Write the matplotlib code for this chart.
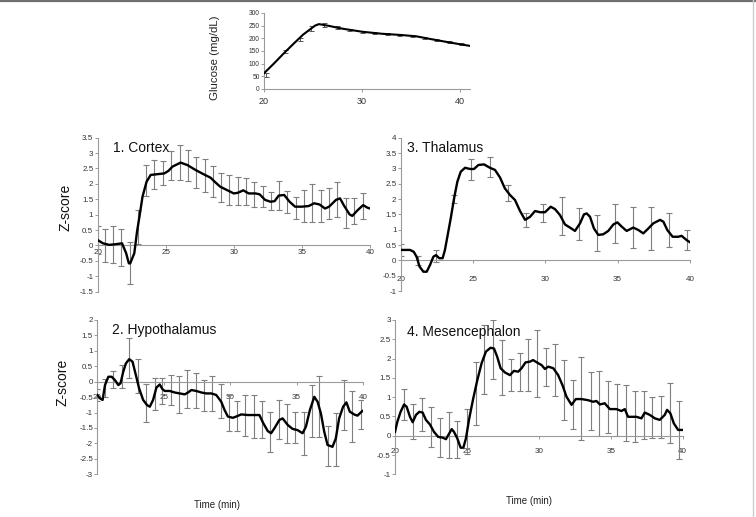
import matplotlib
matplotlib.use("Agg")
import matplotlib.pyplot as plt
from matplotlib.lines import Line2D

plt.rcParams['font.family'] = ['Liberation Sans', 'DejaVu Sans']

# glucose (mg/dL)
glu_t = [20, 21, 22, 23, 24, 25.2, 25.6, 26.5, 28, 30, 32, 34, 35.5, 37, 39, 41]
glu_v = [62, 100, 140, 178, 215, 250, 256, 250, 238, 226, 218, 213, 208, 197, 183, 170]
glu_err_t = [20.17, 22.14, 23.67, 24.8, 26.12, 27.42, 28.67, 29.97, 31.22, 32.52, 33.78,
             35.07, 36.26, 37.52, 38.81, 40.07]
glu_err_c = [55, 147, 196, 239, 252, 242, 233, 225, 220, 217, 214, 209, 201, 193, 184, 176]
glu_err = [8, 5, 5, 10, 8, 5, 5, 5, 4, 4, 4, 4, 4, 4, 4, 4]

# 1. Cortex
cor_t = [20.0, 20.4, 20.85, 21.3, 21.8, 22.1, 22.3, 22.4, 22.7, 22.9, 23.1, 23.3, 23.6, 23.9,
         24.3, 24.9, 25.2, 25.5, 26.1, 26.6, 27.2, 27.8, 28.3, 28.6, 29.0, 29.5, 30.0, 30.3,
         30.7, 31.1, 31.6, 31.9, 32.3, 32.7, 33.0, 33.3, 33.7, 34.1, 34.5, 35.0, 35.5, 35.9,
         36.3, 36.7, 37.0, 37.5, 37.8, 38.1, 38.5, 38.7, 39.1, 39.5, 39.8, 40.0]
cor_z = [0.18, 0.07, 0.02, 0.04, 0.07, -0.25, -0.58, -0.58, -0.25, 0.45, 1.0, 1.58, 2.07, 2.29,
         2.31, 2.34, 2.42, 2.56, 2.69, 2.61, 2.45, 2.31, 2.2, 2.07, 1.91, 1.8, 1.69, 1.71,
         1.79, 1.69, 1.69, 1.66, 1.48, 1.42, 1.44, 1.62, 1.64, 1.42, 1.26, 1.26, 1.28, 1.37,
         1.33, 1.2, 1.26, 1.48, 1.53, 1.29, 1.01, 0.96, 1.15, 1.31, 1.23, 1.2]
cor_err_t = [20.0, 20.54, 21.14, 21.75, 22.36, 22.97, 23.58, 24.18, 24.79, 25.43, 26.03, 26.64,
             27.25, 27.86, 28.47, 29.08, 29.68, 30.29, 30.9, 31.51, 32.12, 32.73, 33.33, 33.94,
             34.55, 35.16, 35.77, 36.37, 36.98, 37.59, 38.25, 38.81, 39.46]
cor_err_c = [0.17, 0.0, 0.03, -0.05, -0.58, 0.6, 2.1, 2.3, 2.35, 2.6, 2.7, 2.6, 2.37, 2.28, 2.09,
             1.88, 1.81, 1.77, 1.76, 1.66, 1.59, 1.44, 1.62, 1.42, 1.23, 1.28, 1.39, 1.28, 1.36,
             1.5, 1.06, 1.11, 1.28]
cor_err = [0.45, 0.55, 0.6, 0.6, 0.68, 0.55, 0.5, 0.48, 0.39, 0.48, 0.56, 0.5, 0.51, 0.53, 0.5,
           0.48, 0.48, 0.46, 0.43, 0.4, 0.34, 0.29, 0.47, 0.35, 0.36, 0.52, 0.62, 0.51, 0.5,
           0.57, 0.48, 0.42, 0.42]

# 3. Thalamus
tha_t = [20.0, 20.65, 20.9, 21.1, 21.3, 21.57, 21.8, 22.03, 22.26, 22.44, 22.67, 22.9, 23.06,
         23.25, 23.46, 23.69, 23.92, 24.15, 24.45, 24.8, 25.07, 25.37, 25.76, 26.17, 26.52,
         26.87, 27.2, 27.56, 27.9, 28.25, 28.6, 28.94, 29.29, 29.63, 29.98, 30.37, 30.67,
         31.01, 31.36, 31.7, 32.05, 32.4, 32.67, 32.86, 33.09, 33.36, 33.66, 34.0, 34.35,
         34.7, 34.98, 35.28, 35.62, 36.08, 36.43, 36.77, 37.12, 37.47, 37.93, 38.16, 38.43,
         38.8, 39.19, 39.42, 39.77, 40.0]
tha_z = [0.34, 0.34, 0.28, 0.12, -0.2, -0.37, -0.37, -0.15, 0.12, 0.17, 0.07, 0.07, 0.34,
         0.83, 1.37, 2.02, 2.57, 2.89, 3.02, 2.98, 2.98, 3.11, 3.13, 3.02, 2.95,
         2.7, 2.35, 2.13, 1.97, 1.61, 1.32, 1.42, 1.61, 1.57, 1.57, 1.75, 1.67,
         1.48, 1.17, 1.07, 0.96, 1.21, 1.5, 1.53, 1.42, 1.04, 0.83, 0.85, 0.96,
         1.17, 1.24, 1.1, 0.96, 1.07, 0.99, 0.88, 1.04, 1.21, 1.32, 1.26, 0.99,
         0.77, 0.77, 0.8, 0.66, 0.59]
tha_err_t = [20.0, 21.23, 22.46, 23.69, 24.84, 26.17, 27.4, 28.64, 29.86, 31.13, 32.35, 33.59,
             34.82, 36.08, 37.28, 38.53, 39.77]
tha_err_c = [0.34, 0.0, 0.15, 2.0, 2.96, 3.04, 2.2, 1.33, 1.54, 1.46, 1.2, 0.9, 1.19, 1.07,
             1.05, 0.99, 0.66]
tha_err = [0.2, 0.15, 0.2, 0.12, 0.35, 0.32, 0.25, 0.23, 0.29, 0.62, 0.52, 0.59, 0.64, 0.68,
           0.7, 0.56, 0.33]

# 2. Hypothalamus
hyp_t = [20.0, 20.2, 20.4, 20.58, 20.83, 21.08, 21.33, 21.58, 21.75, 21.95, 22.15, 22.4, 22.65,
         22.9, 23.15, 23.45, 23.75, 23.95, 24.2, 24.45, 24.7, 24.9, 25.08, 25.45, 25.83, 26.2,
         26.58, 26.83, 27.08, 27.45, 27.83, 28.2, 28.58, 28.95, 29.33, 29.58, 29.83, 30.2,
         30.45, 30.83, 31.33, 31.83, 32.2, 32.5, 32.83, 33.08, 33.33, 33.7, 33.95, 34.33,
         34.7, 35.08, 35.45, 35.7, 36.0, 36.33, 36.58, 36.83, 37.08, 37.33, 37.7, 37.95,
         38.2, 38.5, 38.75, 39.0, 39.33, 39.58, 39.75, 39.95]
hyp_z = [-0.43, -0.54, -0.59, -0.11, 0.16, 0.16, 0.05, -0.11, -0.05, 0.32, 0.59, 0.73, 0.65,
         0.22, -0.22, -0.59, -0.76, -0.81, -0.59, -0.19, -0.09, -0.24, -0.3, -0.3, -0.35, -0.38,
         -0.41, -0.35, -0.27, -0.3, -0.35, -0.38, -0.38, -0.43, -0.65, -0.92, -1.13, -1.17,
         -1.13, -1.06, -1.08, -1.08, -1.08, -1.35, -1.6, -1.67, -1.51, -1.24, -1.19, -1.4,
         -1.53, -1.57, -1.67, -1.46, -0.92, -0.49, -0.65, -1.03, -1.62, -2.05, -2.11, -1.84,
         -1.19, -0.81, -0.67, -0.97, -1.06, -1.1, -1.03, -0.95]
hyp_err_t = [20.0, 20.58, 21.2, 21.83, 22.4, 23.03, 23.65, 24.33, 24.9, 25.53, 26.15, 26.78,
             27.4, 28.03, 28.65, 29.28, 29.9, 30.53, 31.15, 31.78, 32.4, 33.03, 33.65, 34.28,
             34.9, 35.53, 36.15, 36.7, 37.33, 37.95, 38.58, 39.2, 39.83]
hyp_err_c = [-0.43, -0.2, 0.06, 0.16, 0.76, 0.2, -0.69, -0.39, -0.3, -0.26, -0.41, -0.23,
             -0.28, -0.44, -0.39, -0.64, -1.02, -1.11, -1.1, -1.12, -1.23, -1.63, -1.23, -1.35,
             -1.48, -1.67, -0.95, -0.8, -2.07, -1.86, -0.76, -1.12, -1.06]
hyp_err = [0.2, 0.3, 0.28, 0.38, 0.65, 0.55, 0.6, 0.52, 0.43, 0.48, 0.61, 0.61, 0.56, 0.5,
           0.56, 0.55, 0.58, 0.49, 0.67, 0.69, 0.6, 0.66, 0.63, 0.62, 0.49, 0.7, 0.84, 0.99,
           0.65, 0.86, 0.81, 0.82, 0.46]

# 4. Mesencephalon
mes_t = [20.0, 20.16, 20.39, 20.63, 20.81, 21.04, 21.23, 21.46, 21.69, 21.92, 22.15, 22.43,
         22.71, 23.0, 23.31, 23.54, 23.77, 23.94, 24.1, 24.33, 24.56, 24.75, 24.93, 25.16,
         25.44, 25.72, 26.02, 26.32, 26.64, 26.88, 27.1, 27.34, 27.64, 27.99, 28.26, 28.56,
         28.8, 29.07, 29.38, 29.6, 29.95, 30.19, 30.42, 30.65, 31.0, 31.34, 31.64, 31.92,
         32.27, 32.57, 32.96, 33.43, 33.77, 34.0, 34.24, 34.58, 34.93, 35.39, 35.74, 35.97,
         36.2, 36.78, 37.13, 37.36, 37.71, 38.06, 38.4, 38.75, 38.91, 39.14, 39.38, 39.68, 39.98]
mes_z = [0.1, 0.36, 0.62, 0.81, 0.75, 0.49, 0.35, 0.54, 0.62, 0.6, 0.41, 0.29,
         0.1, -0.03, -0.05, -0.09, 0.06, 0.17, 0.1, -0.07, -0.31, -0.31, -0.07, 0.45,
         0.97, 1.44, 1.88, 2.18, 2.28, 2.26, 2.05, 1.75, 1.64, 1.57, 1.68, 1.66,
         1.75, 1.9, 1.92, 1.96, 1.88, 1.83, 1.73, 1.79, 1.75, 1.57, 1.31, 1.01,
         0.8, 0.95, 0.95, 0.92, 0.88, 0.9, 0.81, 0.84, 0.69, 0.69, 0.64, 0.69,
         0.49, 0.49, 0.45, 0.6, 0.54, 0.45, 0.41, 0.54, 0.67, 0.58, 0.32, 0.15, 0.15]
mes_err_t = [20.63, 21.23, 21.85, 22.48, 23.13, 23.73, 24.33, 24.98, 25.6, 26.2, 26.83, 27.45,
             28.06, 28.66, 29.26, 29.88, 30.49, 31.11, 31.74, 32.36, 32.96, 33.59, 34.19,
             34.81, 35.44, 36.04, 36.67, 37.29, 37.89, 38.52, 39.14, 39.75]
mes_err_c = [0.8, 0.36, 0.55, 0.23, -0.05, 0.02, -0.09, 0.1, 1.1, 1.97, 2.23, 1.77, 1.58, 1.66,
             1.83, 1.88, 1.79, 1.7, 1.18, 0.81, 0.97, 0.9, 0.83, 0.74, 0.67, 0.59, 0.5, 0.54,
             0.47, 0.48, 0.58, 0.15]
mes_err = [0.4, 0.45, 0.43, 0.52, 0.5, 0.59, 0.48, 0.58, 0.81, 0.9, 0.76, 0.71, 0.42, 0.49,
           0.67, 0.87, 0.49, 0.67, 0.77, 0.63, 1.08, 0.76, 0.84, 0.67, 0.68, 0.72, 0.66, 0.62,
           0.54, 0.55, 0.78, 0.76]

GRAY = '#9a9a9a'
TXT = '#333333'

fig = plt.figure(figsize=(7.56, 5.17), dpi=100)
fig.patch.set_facecolor('white')


def style(ax, xlim, ylim, yticks, xpad, zero_axis=True):
    ax.set_xlim(*xlim)
    ax.set_ylim(*ylim)
    for s in ('top', 'right'):
        ax.spines[s].set_visible(False)
    for s in ('left', 'bottom'):
        ax.spines[s].set_color(GRAY)
        ax.spines[s].set_linewidth(0.8)
    if zero_axis:
        ax.spines['bottom'].set_position(('data', 0))
    ax.set_yticks(yticks)
    ax.set_yticklabels(['%g' % v for v in yticks])
    ax.tick_params(axis='both', direction='out', length=2, width=0.7, color=GRAY,
                   labelsize=5.8, labelcolor=TXT, pad=1)
    ax.tick_params(axis='x', pad=xpad)
    ax.patch.set_alpha(0)


def panel(rect, t, z, et, ec, ee, ylim, yticks, title, tpos, xpad):
    ax = fig.add_axes(rect)
    ax.errorbar(et, ec, yerr=ee, fmt='none', ecolor='#7f7f7f', elinewidth=0.8,
                capsize=2, capthick=0.8, zorder=2)
    ax.plot(t, z, color='black', lw=1.7, zorder=3)
    style(ax, (20, 40), ylim, yticks, xpad)
    ax.set_xticks([20, 25, 30, 35, 40])
    ax.text(tpos[0], tpos[1], title, transform=ax.transAxes, fontsize=10,
            ha='left', va='center', color='#111111')
    return ax


# glucose panel
axg = fig.add_axes([0.3492, 0.8279, 0.2725, 0.1470])
axg.errorbar(glu_err_t, glu_err_c, yerr=glu_err, fmt='none', ecolor='#555555',
             elinewidth=0.7, capsize=1.8, capthick=0.7, zorder=2)
axg.plot(glu_t, glu_v, color='black', lw=1.5, zorder=3)
style(axg, (20, 41), (0, 300), list(range(0, 301, 50)), 3.5, zero_axis=False)
axg.set_xticks([20, 30, 40])
axg.tick_params(axis='y', labelsize=4.8)
axg.tick_params(axis='x', labelsize=6.5)

panel([0.1290, 0.4358, 0.3604, 0.2979], cor_t, cor_z, cor_err_t, cor_err_c, cor_err,
      (-1.5, 3.5), [-1.5, -1, -0.5, 0, 0.5, 1, 1.5, 2, 2.5, 3, 3.5], '1. Cortex',
      (0.056, 0.931), 0.8)
panel([0.5300, 0.4371, 0.3827, 0.2965], tha_t, tha_z, tha_err_t, tha_err_c, tha_err,
      (-1, 4), [-1, -0.5, 0, 0.5, 1, 1.5, 2, 2.5, 3, 3.5, 4], '3. Thalamus',
      (0.021, 0.931), 9.5)
panel([0.1287, 0.0826, 0.3515, 0.2985], hyp_t, hyp_z, hyp_err_t, hyp_err_c, hyp_err,
      (-3, 2), [-3, -2.5, -2, -1.5, -1, -0.5, 0, 0.5, 1, 1.5, 2], '2. Hypothalamus',
      (0.054, 0.935), 7)
panel([0.5225, 0.0826, 0.3806, 0.2985], mes_t, mes_z, mes_err_t, mes_err_c, mes_err,
      (-1, 3), [-1, -0.5, 0, 0.5, 1, 1.5, 2, 2.5, 3], '4. Mesencephalon',
      (0.041, 0.924), 7)

fig.text(0.086, 0.5996, 'Z-score', rotation=90, ha='center', va='center', fontsize=10,
         color='#111111')
fig.text(0.083, 0.261, 'Z-score', rotation=90, ha='center', va='center', fontsize=10,
         color='#111111')
fig.text(0.284, 0.888, 'Glucose (mg/dL)', rotation=90, ha='center', va='center',
         fontsize=8.2, color='#222222')
fig.text(0.287, 0.023, 'Time (min)', ha='center', va='center', fontsize=7, color='#222222')
fig.text(0.700, 0.031, 'Time (min)', ha='center', va='center', fontsize=7, color='#222222')

# frame edges of the original figure
fig.add_artist(Line2D([0, 1], [0.998, 0.998], transform=fig.transFigure, color='#707070', lw=1.6))
fig.add_artist(Line2D([0.9965, 0.9965], [0, 1], transform=fig.transFigure, color='#cccccc', lw=1))

fig.savefig('out.png', dpi=100)
